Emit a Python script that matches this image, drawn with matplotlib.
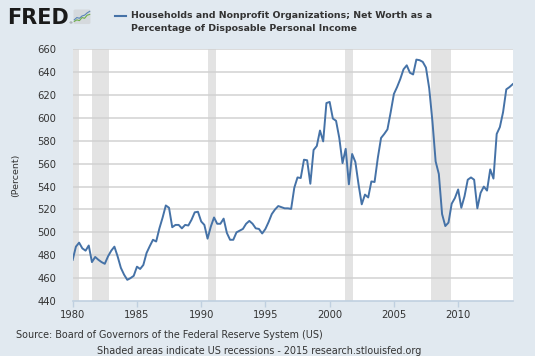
import matplotlib
matplotlib.use('Agg')
import matplotlib.pyplot as plt
import matplotlib.dates as mdates
from matplotlib.patches import FancyBboxPatch
import pandas as pd

# ---------------- data ----------------
series_name = ["Households and Nonprofit Organizations; Net Worth as a",
               "Percentage of Disposable Personal Income"]
first_quarter = '1980-01-01'
values = [
    476, 487.5, 491, 486, 484, 488.5, 474, 478.5,           # 1980-81
    476, 474, 472.5, 479, 484, 487.5, 479, 469,             # 1982-83
    463, 458.5, 460, 462, 470, 468, 471.5, 482,             # 1984-85
    488, 493.5, 492, 503.5, 513, 523.5, 521.5, 504.5,       # 1986-87
    506.5, 506.5, 503.5, 506.5, 506, 511, 517.5, 518,       # 1988-89
    509.5, 506.5, 494.5, 505, 513, 507.5, 507.5, 512,       # 1990-91
    499.5, 493.5, 493.5, 500, 501.5, 503, 507.5, 510,       # 1992-93
    507.5, 503.5, 503, 499, 503, 509, 516, 520,             # 1994-95
    523, 522, 521, 521, 520.5, 539, 548, 547.5,             # 1996-97
    563.5, 563, 542.5, 572, 575.5, 589, 579.5, 613,         # 1998-99
    614, 599.5, 597.5, 582.5, 560.5, 573, 542, 568.5,       # 2000-01
    561.5, 542, 524.5, 533, 530.5, 544.5, 544, 565,         # 2002-03
    582.5, 586, 590, 605, 621, 627, 634, 642.5,             # 2004-05
    646, 639.5, 638, 651, 650.5, 649, 644, 626,             # 2006-07
    597, 562, 551, 516, 505.5, 508.5, 525, 530,             # 2008-09
    537.5, 521.5, 531.5, 546, 548, 546, 521, 534.5,         # 2010-11
    540, 536.5, 555, 547, 586, 592, 605, 625,               # 2012-13
    627, 629.5,                                             # 2014
]
recession_starts = ['1980-01-01', '1981-07-01', '1990-07-01', '2001-03-01', '2007-12-01']
recession_ends = ['1980-07-01', '1982-11-01', '1991-03-01', '2001-11-01', '2009-06-01']
y_ticks = [440, 460, 480, 500, 520, 540, 560, 580, 600, 620, 640, 660]
x_tick_years = [1980, 1985, 1990, 1995, 2000, 2005, 2010]
y_label = "(Percent)"
source_text = "Source: Board of Governors of the Federal Reserve System (US)"
footer_text = "Shaded areas indicate US recessions - 2015 research.stlouisfed.org"
logo_text = "FRED"
icon_green = [2, 3, 2.5, 4.5, 4, 6, 6.5]
icon_blue = [3, 4.5, 4, 5.5, 6, 7.5, 8.5]

# ---------------- style ----------------
BG = '#E1E9F0'
LINE = '#4572A7'
GRID = '#D2D2D2'
SHADE = '#E3E3E3'
AXIS = '#C0D0E0'
TXT = '#333333'
plt.rcParams['font.family'] = ['DejaVu Sans']

W, H = 535, 356
fig = plt.figure(figsize=(W / 100, H / 100), dpi=100, facecolor=BG)

L, R, T, B = 72.7, 512.7, 49.3, 301.0
ax = fig.add_axes([L / W, 1 - B / H, (R - L) / W, (B - T) / H])
ax.set_facecolor('white')

dates = pd.date_range(first_quarter, periods=len(values), freq='QS')

for s, e in zip(recession_starts, recession_ends):
    ax.axvspan(pd.Timestamp(s), pd.Timestamp(e), color=SHADE, lw=0, zorder=1)

for v in y_ticks[1:]:
    ax.axhline(v, color=GRID, lw=1.1, zorder=2)

ax.plot(dates, values, color=LINE, lw=1.4, zorder=3, solid_joinstyle='round')

ax.set_xlim(dates[0], dates[-1])
ax.set_ylim(y_ticks[0], y_ticks[-1])
ax.set_yticks(y_ticks)
ax.set_xticks([pd.Timestamp(f'{y}-01-01') for y in x_tick_years])
ax.xaxis.set_major_formatter(mdates.DateFormatter('%Y'))

for sp in ['top', 'right', 'left']:
    ax.spines[sp].set_visible(False)
ax.spines['bottom'].set_color(AXIS)
ax.spines['bottom'].set_linewidth(1.2)
ax.spines['bottom'].set_zorder(4)
ax.tick_params(axis='y', length=0, pad=12, labelsize=7.2, labelcolor=TXT)
ax.tick_params(axis='x', length=4, width=1, color=AXIS, pad=2.5, labelsize=7.2, labelcolor=TXT)
ax.set_ylabel(y_label, fontsize=6.8, color=TXT, labelpad=12)

# ---------------- header ----------------
fig.text(7.5 / W, 1 - 24 / H, logo_text, fontsize=15, fontweight='heavy',
         color='#1a1a1a', ha='left', va='baseline')
fig.text(68.5 / W, 1 - 24 / H, '®', fontsize=3, color='#555555', ha='left', va='baseline')
iax = fig.add_axes([73 / W, 1 - 24.5 / H, 18 / W, 15.5 / H])
iax.set_xlim(-0.5, 6.5)
iax.set_ylim(0, 10)
iax.axis('off')
iax.add_patch(FancyBboxPatch((-0.3, 0.3), 6.6, 9.4, boxstyle='round,pad=0,rounding_size=0.8',
                             facecolor='#D5D9DD', edgecolor='none'))
iax.plot(range(len(icon_green)), icon_green, color='#6FAF4A', lw=0.8)
iax.plot(range(len(icon_blue)), icon_blue, color='#5A86B8', lw=0.8)

fig.add_artist(plt.Line2D([114.5 / W, 126 / W], [1 - 16 / H, 1 - 16 / H], color=LINE, lw=1.5))
fig.text(131 / W, 1 - 16 / H, series_name[0], fontsize=6.75, fontweight='bold', color=TXT,
         ha='left', va='center')
fig.text(131 / W, 1 - 28.5 / H, series_name[1], fontsize=6.75, fontweight='bold', color=TXT,
         ha='left', va='center')

# ---------------- footer ----------------
fig.text(16 / W, 1 - 335 / H, source_text, fontsize=6.9, color=TXT, ha='left', va='center')
fig.text(259 / W, 1 - 351 / H, footer_text, fontsize=6.9, color=TXT, ha='center', va='center')

fig.savefig('out.png', dpi=100, facecolor=BG)
